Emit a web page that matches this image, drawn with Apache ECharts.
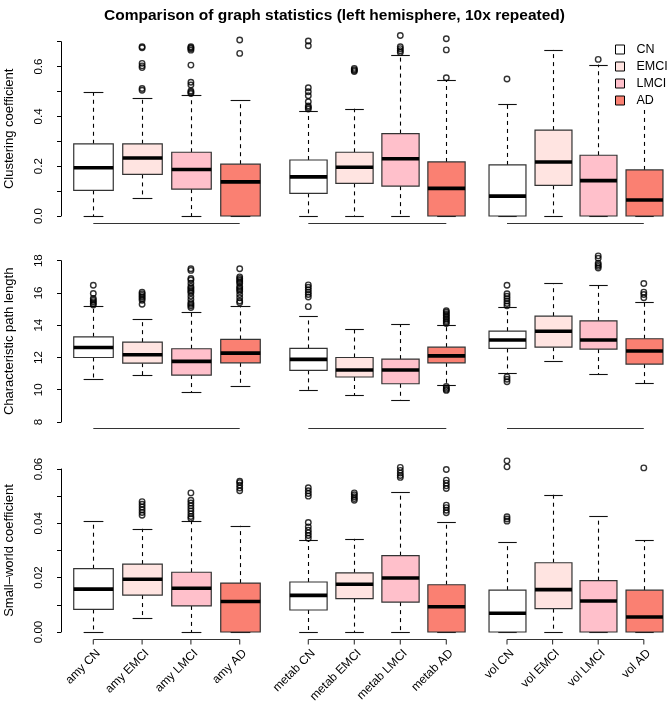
<!DOCTYPE html>
<html><head><meta charset="utf-8">
<script src="https://cdn.jsdelivr.net/npm/echarts@6/dist/echarts.min.js"></script>
<style>html,body{margin:0;padding:0;background:#fff}#c{width:669px;height:703px}</style>
</head><body><div id="c"></div><script>
// ---------------- DATA ----------------
const categories = ['amy CN','amy EMCI','amy LMCI','amy AD','metab CN','metab EMCI','metab LMCI','metab AD','vol CN','vol EMCI','vol LMCI','vol AD'];
const diagnosisGroups = ['CN','EMCI','LMCI','AD'];
const chartTitle = 'Comparison of graph statistics (left hemisphere, 10x repeated)';
const panelNames = ['Clustering coefficient','Characteristic path length','Small\u2013world coefficient'];

// box stats: [lower whisker, Q1, median, Q3, upper whisker]
const ccStats = [
  [0, 0.103, 0.194, 0.290, 0.498], [0.0735, 0.167, 0.233, 0.290, 0.475], [0, 0.108, 0.187, 0.256, 0.486], [0, 0, 0.137, 0.208, 0.465],
  [0, 0.091, 0.157, 0.225, 0.422], [0, 0.131, 0.196, 0.256, 0.431], [0, 0.120, 0.230, 0.331, 0.647], [0, 0, 0.111, 0.217, 0.546],
  [0, 0, 0.080, 0.205, 0.450], [0, 0.123, 0.217, 0.345, 0.667], [0, 0, 0.142, 0.244, 0.608], [0, 0, 0.064, 0.185, 0.50]
];
const ccOutliers = [
  [], [0.680, 0.676, 0.613, 0.603, 0.596, 0.512, 0.505], [0.680, 0.676, 0.672, 0.666, 0.606, 0.537, 0.526, 0.502, 0.497, 0.492], [0.707, 0.653],
  [0.703, 0.684, 0.515, 0.499, 0.483, 0.459, 0.442, 0.436, 0.430], [0.593, 0.588, 0.584, 0.580], [0.725, 0.680, 0.672, 0.664, 0.657], [0.712, 0.667, 0.555],
  [0.550], [], [0.629], []
];
const cplStats = [
  [10.64, 12.0, 12.62, 13.28, 15.18], [10.91, 11.65, 12.17, 12.95, 14.40], [9.86, 10.91, 11.76, 12.54, 14.81], [10.21, 11.67, 12.27, 13.12, 15.2],
  [10.0, 11.2, 11.88, 12.56, 14.56], [9.65, 10.79, 11.22, 12.0, 13.78], [9.34, 10.37, 11.22, 11.9, 14.07], [10.31, 11.67, 12.1, 12.64, 14.03],
  [11.05, 12.56, 13.08, 13.63, 15.14], [11.8, 12.64, 13.63, 14.56, 16.59], [10.97, 12.52, 13.08, 14.27, 16.48], [10.4, 11.59, 12.4, 13.16, 15.45]
];
const cplOutliers = [
  [16.48, 15.97, 15.66, 15.55, 15.45, 15.35, 15.25],
  [16.05, 15.95, 15.85, 15.75, 15.65, 15.55, 15.3],
  [17.5, 17.4, 16.9, 16.8, 16.6, 16.4, 16.3, 16.2, 16.1, 16.0, 15.8, 15.6, 15.4, 15.3, 15.2, 15.1],
  [17.5, 17.0, 16.9, 16.8, 16.7, 16.6, 16.4, 16.3, 16.2, 16.1, 15.9, 15.7, 15.5, 15.4],
  [16.5, 16.35, 16.2, 16.05, 15.9, 15.75, 15.15],
  [], [],
  [14.9, 14.8, 14.7, 14.6, 14.5, 14.4, 14.3, 14.2, 14.1, 10.2, 10.1, 10.02, 9.96],
  [16.48, 15.95, 15.8, 15.65, 15.5, 15.35, 15.2, 10.8, 10.65, 10.5],
  [],
  [18.3, 18.15, 17.85, 17.75, 17.65, 17.55],
  [16.59, 16.05, 15.9, 15.7]
];
const swcStats = [
  [0, 0.0083, 0.0158, 0.0233, 0.0407], [0.0053, 0.0136, 0.0194, 0.025, 0.038], [0, 0.0096, 0.0161, 0.022, 0.041], [0, 0, 0.0112, 0.018, 0.0391],
  [0, 0.0081, 0.0135, 0.0184, 0.0337], [0, 0.0123, 0.0176, 0.0218, 0.0343], [0, 0.011, 0.0199, 0.0281, 0.0516], [0, 0, 0.0093, 0.0174, 0.0404],
  [0, 0, 0.0069, 0.0154, 0.0331], [0, 0.0086, 0.0156, 0.0255, 0.0506], [0, 0, 0.0114, 0.0189, 0.0426], [0, 0, 0.0055, 0.0154, 0.0337]
];
const swcOutliers = [
  [], [0.048, 0.047, 0.046, 0.045, 0.044, 0.043],
  [0.0512, 0.0485, 0.0475, 0.0465, 0.0455, 0.0445, 0.0435, 0.0425, 0.0418],
  [0.0555, 0.055, 0.054, 0.053, 0.052],
  [0.0531, 0.052, 0.051, 0.050, 0.0403, 0.0387, 0.0375, 0.0365, 0.0355, 0.0345],
  [0.0512, 0.0505, 0.0498, 0.0491, 0.0485],
  [0.0606, 0.0595, 0.0585, 0.0576, 0.0569],
  [0.0598, 0.0559, 0.0548, 0.0538, 0.0528, 0.0467, 0.0458, 0.0448, 0.0439],
  [0.063, 0.0608, 0.0424, 0.0416, 0.0408], [], [], [0.0604]
];
// y axis ranges / ticks
const yMins = [0, 8, 0];
const yMaxs = [0.7, 18, 0.06];
const yTickSteps = [0.1, 2, 0.01];

// ---------------- LAYOUT / STYLE ----------------
const FONT = "'Liberation Sans', Arial, Helvetica, sans-serif";
const fillColors = ['#FFFFFF', '#FFE4E1', '#FFC0CB', '#FA8072'];
const gridBoxes = [ {top: 41.7, height: 174.3}, {top: 260.7, height: 161.3}, {top: 469, height: 163} ];
const PLOT_LEFT = 61, PLOT_RIGHT = 669;
const groupStart = [93.3, 308.3, 507];
const groupStep = [48.8, 46.0, 45.6];
const BOX_FRAC = 0.81;
function boxX(i) { const g = Math.floor(i / 4); return groupStart[g] + (i % 4) * groupStep[g]; }
function boxW(i) { return BOX_FRAC * groupStep[Math.floor(i / 4)]; }

const statsList = [ccStats, cplStats, swcStats];
const outList = [ccOutliers, cplOutliers, swcOutliers];

function makeBoxRender(indices) {
  return function (params, api) {
    const i = indices[params.dataIndex];
    const x = api.value(0);
    const lo = api.coord([x, api.value(1)]);
    const q1 = api.coord([x, api.value(2)]);
    const md = api.coord([x, api.value(3)]);
    const q3 = api.coord([x, api.value(4)]);
    const hi = api.coord([x, api.value(5)]);
    const w = api.size([boxW(i), 0])[0];
    const cx = Math.round(lo[0]) + 0.5;
    const half = w / 2, cap = w / 4;
    const blackThin = {stroke: '#111', lineWidth: 1.1};
    return {
      type: 'group',
      children: [
        {type: 'line', shape: {x1: cx, y1: q3[1], x2: cx, y2: hi[1]}, style: {stroke: '#000', lineWidth: 1.1, lineDash: [4, 4]}},
        {type: 'line', shape: {x1: cx, y1: q1[1], x2: cx, y2: lo[1]}, style: {stroke: '#000', lineWidth: 1.1, lineDash: [4, 4]}},
        {type: 'line', shape: {x1: cx - cap, y1: Math.round(hi[1]) + 0.5, x2: cx + cap, y2: Math.round(hi[1]) + 0.5}, style: blackThin},
        {type: 'line', shape: {x1: cx - cap, y1: Math.round(lo[1]) + 0.5, x2: cx + cap, y2: Math.round(lo[1]) + 0.5}, style: blackThin},
        {type: 'rect', shape: {x: cx - half, y: q3[1], width: w, height: q1[1] - q3[1]},
          style: {fill: api.visual('color'), stroke: '#333', lineWidth: 1.2}},
        {type: 'line', shape: {x1: cx - half, y1: md[1], x2: cx + half, y2: md[1]}, style: {stroke: '#000', lineWidth: 3.6}}
      ]
    };
  };
}

function makeAxisRender(p) {
  return function (params, api) {
    const g = params.dataIndex;
    const x1 = api.value(0), x2 = api.value(2);
    const bottom = api.coord([x1, yMins[p]]);
    const top = api.coord([x1, yMaxs[p]]);
    const y = Math.round(bottom[1] + 0.04 * (bottom[1] - top[1])) + 0.5;
    const pEnd = api.coord([x2, yMins[p]]);
    const children = [{type: 'line', shape: {x1: bottom[0], y1: y, x2: pEnd[0], y2: y}, style: {stroke: '#333', lineWidth: 1.1}}];
    if (p === 2) {
      for (let k = 0; k < 4; k++) {
        const i = g * 4 + k;
        const cx = api.coord([boxX(i), yMins[p]])[0];
        children.push({type: 'line', shape: {x1: cx, y1: y, x2: cx, y2: y + 5}, style: {stroke: '#333', lineWidth: 1.1}});
        children.push({type: 'text', x: cx + 5, y: y + 12, rotation: Math.PI / 4,
          style: {text: categories[i], align: 'right', verticalAlign: 'middle', fontSize: 12, fontFamily: FONT, fill: '#000'}});
      }
    }
    return {type: 'group', children};
  };
}

const grids = [], xAxes = [], yAxes = [], series = [];
const labelFormatters = [
  v => (Math.round(v * 10) % 2 === 0 ? v.toFixed(1) : ''),
  v => String(Math.round(v)),
  v => (Math.round(v * 100) % 2 === 0 ? v.toFixed(2) : '')
];
for (let p = 0; p < 3; p++) {
  grids.push({left: PLOT_LEFT, width: PLOT_RIGHT - PLOT_LEFT, top: gridBoxes[p].top, height: gridBoxes[p].height,
    containLabel: false, outerBoundsMode: 'none'});
  xAxes.push({type: 'value', gridIndex: p, min: PLOT_LEFT, max: PLOT_RIGHT, show: false});
  yAxes.push({
    type: 'value', gridIndex: p, min: yMins[p], max: yMaxs[p], interval: yTickSteps[p],
    name: panelNames[p], nameLocation: 'middle', nameGap: 45,
    nameTextStyle: {fontSize: 13, color: '#000', fontFamily: FONT},
    axisLine: {show: true, lineStyle: {color: '#000', width: 1}},
    axisTick: {show: true, length: 4, lineStyle: {color: '#000'}},
    axisLabel: {rotate: 90, fontSize: 11.5, color: '#000', margin: 16, fontFamily: FONT, formatter: labelFormatters[p]},
    splitLine: {show: false}
  });
  const stats = statsList[p];
  for (let d = 0; d < 4; d++) {
    const idx = [d, d + 4, d + 8];
    series.push({
      type: 'custom', name: diagnosisGroups[d], xAxisIndex: p, yAxisIndex: p,
      itemStyle: {color: fillColors[d], borderColor: '#000', borderWidth: 1},
      renderItem: makeBoxRender(idx),
      encode: {x: 0, y: [1, 2, 3, 4, 5]},
      data: idx.map(i => [boxX(i)].concat(stats[i])),
      z: 2
    });
  }
  const pts = [];
  outList[p].forEach((arr, i) => arr.forEach(v => pts.push([boxX(i), v])));
  series.push({
    type: 'scatter', xAxisIndex: p, yAxisIndex: p, clip: false, symbol: 'circle', symbolSize: 5.5,
    itemStyle: {color: 'rgba(0,0,0,0)', borderColor: '#000', borderWidth: 1.4},
    data: pts, z: 3, silent: true
  });
  series.push({
    type: 'custom', xAxisIndex: p, yAxisIndex: p, silent: true,
    renderItem: makeAxisRender(p),
    encode: {x: [0, 2], y: 1},
    data: [0, 1, 2].map(g => [boxX(g * 4), yMins[p], boxX(g * 4 + 3)]),
    z: 1
  });
}

const chart = echarts.init(document.getElementById('c'), null, {renderer: 'canvas'});
chart.setOption({
  animation: false,
  backgroundColor: '#fff',
  textStyle: {fontFamily: FONT},
  title: {text: chartTitle, left: 'center', top: 3, textStyle: {fontSize: 15.5, fontWeight: 'bold', color: '#000', fontFamily: FONT}},
  legend: {
    data: diagnosisGroups, orient: 'vertical', left: 609, top: 40,
    icon: 'rect', itemWidth: 9, itemHeight: 9, itemGap: 4,
    itemStyle: {borderColor: '#000', borderWidth: 1},
    formatter: name => '  ' + name,
    textStyle: {fontSize: 12.5, color: '#000', fontFamily: FONT},
    backgroundColor: '#fff', padding: [3, 4, 3, 6], selectedMode: false
  },
  grid: grids, xAxis: xAxes, yAxis: yAxes, series: series
});
</script></body></html>
